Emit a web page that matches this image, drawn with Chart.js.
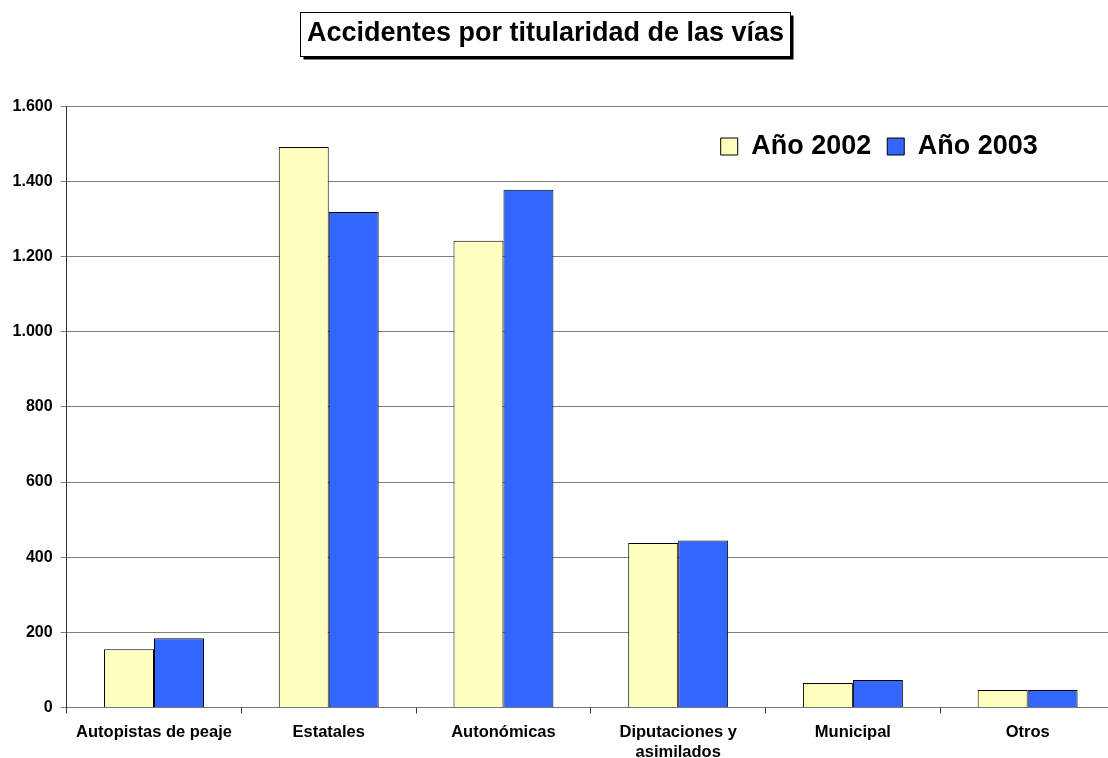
<!DOCTYPE html>
<html>
<head>
<meta charset="utf-8">
<script src="https://cdn.jsdelivr.net/npm/chart.js@4.4.0/dist/chart.umd.min.js"></script>
<style>
  html, body { margin: 0; padding: 0; background: #fff; overflow: hidden; }
  #wrap { position: absolute; left: 0; top: 0; width: 1117px; height: 780px; }
</style>
</head>
<body>
<div id="wrap"><canvas id="chart" width="1117" height="780"></canvas></div>
<script>
const titleText = 'Accidentes por titularidad de las vías';
const categories = ['Autopistas de peaje', 'Estatales', 'Autonómicas', ['Diputaciones y', 'asimilados'], 'Municipal', 'Otros'];
const seriesNames = ['Año 2002', 'Año 2003'];
const year2002 = [155, 1492, 1242, 438, 65, 46];
const year2003 = [184, 1319, 1378, 444, 73, 46];
const yTickLabels = ['0', '200', '400', '600', '800', '1.000', '1.200', '1.400', '1.600'];

const FONT = "'Liberation Sans', Arial, Helvetica, sans-serif";

// move title and legend to where the original has them, and draw the title frame
const placeBoxes = {
  id: 'placeBoxes',
  afterLayout(chart) {
    const t = chart.titleBlock;
    const th = t.bottom - t.top;
    t.left = 0;
    t.right = 1091;
    t.top = 17;
    t.bottom = 17 + th;

    const lg = chart.legend;
    const lh = lg.bottom - lg.top;
    lg.left = 704.7;
    lg.top = 117;
    lg.bottom = lg.top + lh;
  },
  beforeDraw(chart) {
    const ctx = chart.ctx;
    ctx.save();
    ctx.font = 'bold 27px ' + FONT;
    const w = ctx.measureText(titleText).width;
    const cx = 545.5;
    const x = Math.round(cx - w / 2 - 7) + 0.5;
    const y = 12.5;
    const bw = Math.round(w + 13);
    const bh = 44;
    ctx.fillStyle = '#000';
    ctx.fillRect(x + 3, y + 3, bw, bh);
    ctx.fillStyle = '#fff';
    ctx.fillRect(x, y, bw, bh);
    ctx.strokeStyle = '#000';
    ctx.lineWidth = 1;
    ctx.strokeRect(x, y, bw, bh);
    ctx.restore();
  }
};

const ctx = document.getElementById('chart').getContext('2d');

new Chart(ctx, {
  type: 'bar',
  data: {
    labels: categories,
    datasets: [
      {
        label: seriesNames[0],
        data: year2002,
        backgroundColor: '#FFFFC0',
        borderColor: '#000',
        borderWidth: 1
      },
      {
        label: seriesNames[1],
        data: year2003,
        backgroundColor: '#3366FF',
        borderColor: '#000',
        borderWidth: 1
      }
    ]
  },
  options: {
    responsive: false,
    animation: false,
    layout: { padding: { left: 4.6, right: 2, top: 0, bottom: 9 } },
    datasets: {
      bar: { categoryPercentage: 0.572, barPercentage: 1 }
    },
    plugins: {
      title: {
        display: true,
        text: titleText,
        color: '#000',
        font: { family: FONT, size: 27, weight: 'bold' },
        padding: { top: 0, bottom: 21 }
      },
      legend: {
        display: true,
        position: 'top',
        align: 'start',
        labels: {
          color: '#000',
          font: { family: FONT, size: 27, weight: 'bold' },
          boxWidth: 17,
          boxHeight: 17,
          padding: 16
        }
      },
      tooltip: { enabled: false }
    },
    scales: {
      x: {
        grid: {
          display: true,
          drawOnChartArea: false,
          drawTicks: true,
          tickLength: 6,
          color: '#333',
          offset: true
        },
        border: { display: true, color: '#777', width: 1 },
        ticks: {
          color: '#000',
          font: { family: FONT, size: 16.5, weight: 'bold' },
          padding: 9,
          maxRotation: 0,
          autoSkip: false
        }
      },
      y: {
        min: 0,
        max: 1600,
        grid: {
          color: '#808080',
          tickLength: 6
        },
        border: { display: true, color: '#333', width: 1 },
        ticks: {
          stepSize: 200,
          color: '#000',
          font: { family: FONT, size: 16, weight: 'bold' },
          padding: 8,
          callback: (value, index) => yTickLabels[index]
        }
      }
    }
  },
  plugins: [placeBoxes]
});
</script>
</body>
</html>
